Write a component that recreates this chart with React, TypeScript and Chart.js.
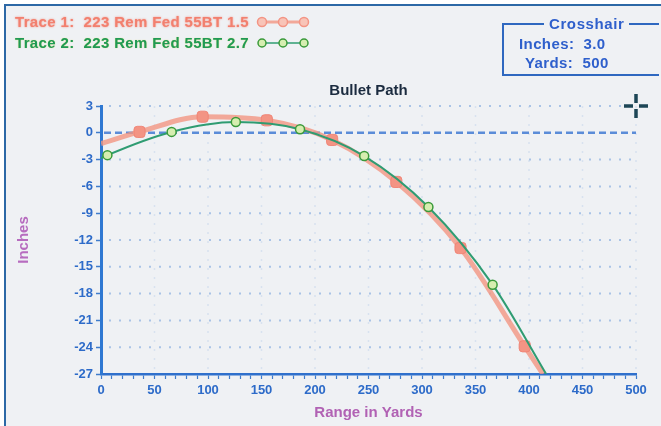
import React, { useEffect, useRef } from 'react';
import { Chart, registerables } from 'chart.js';
Chart.register(...registerables);

// Trace 1 (salmon): path incl. muzzle start and end at chart bottom
const trace1Yards = [0, 36, 95, 155, 216, 276, 336, 396, 413];
const trace1Inches = [-1.2, 0.1, 1.8, 1.4, -0.8, -5.5, -12.9, -23.9, -27];
// Trace 2 (green)
const trace2Yards = [0, 6, 66, 126, 186, 246, 306, 366, 416];
const trace2Inches = [-2.85, -2.5, 0.1, 1.2, 0.4, -2.6, -8.3, -17.0, -27];

const xTicksMajor = [0, 50, 100, 150, 200, 250, 300, 350, 400, 450, 500];
const yTicks = [3, 0, -3, -6, -9, -12, -15, -18, -21, -24, -27];

const trace1Label = 'Trace 1:  223 Rem Fed 55BT 1.5';
const trace2Label = 'Trace 2:  223 Rem Fed 55BT 2.7';
const crosshairInches = 3.0;
const crosshairYards = 500;

const FONT = "'Liberation Sans', Arial, sans-serif";
const BLUE = '#2d6bc9';
const RED_LINE = 'rgba(243,150,130,0.8)';
const RED_PT = '#f39484';
const GREEN_LINE = '#2f9c72';
const GREEN_PT_BORDER = '#3a9a3a';
const GREEN_PT_FILL = '#d6eeb0';

export default function App() {
  const ref = useRef<HTMLCanvasElement | null>(null);

  useEffect(() => {
    document.body.style.margin = '0';
    document.body.style.background = '#ffffff';
    const canvas = ref.current;
    if (!canvas) return;

    const drawPlugin = {
      id: 'custom',
      beforeDatasetsDraw(chart: any) {
        const { ctx, chartArea, scales } = chart;
        const x = scales.x;
        const y = scales.y;
        ctx.save();
        // faint vertical dotted lines
        ctx.strokeStyle = 'rgba(175,198,228,0.35)';
        ctx.lineWidth = 1.5;
        ctx.setLineDash([2, 7]);
        xTicksMajor.forEach((v) => {
          if (v === 0) return;
          const px = x.getPixelForValue(v);
          ctx.beginPath();
          ctx.moveTo(px, chartArea.top);
          ctx.lineTo(px, chartArea.bottom);
          ctx.stroke();
        });
        // horizontal dotted lines
        ctx.strokeStyle = '#a9c3e6';
        ctx.lineWidth = 2;
        ctx.setLineDash([2, 8]);
        yTicks.forEach((v) => {
          if (v === 0 || v === -27) return;
          const py = y.getPixelForValue(v);
          ctx.beginPath();
          ctx.moveTo(chartArea.left + 8, py);
          ctx.lineTo(chartArea.right, py);
          ctx.stroke();
        });
        // zero line dashed
        ctx.strokeStyle = '#5b8cd8';
        ctx.lineWidth = 2.5;
        ctx.setLineDash([7, 4]);
        const pz = y.getPixelForValue(0);
        ctx.beginPath();
        ctx.moveTo(chartArea.left + 3, pz);
        ctx.lineTo(chartArea.right, pz);
        ctx.stroke();
        ctx.restore();
      },
      afterDraw(chart: any) {
        const { ctx, chartArea, scales } = chart;
        ctx.save();
        // title
        ctx.fillStyle = '#1b2b3f';
        ctx.font = `bold 15px ${FONT}`;
        ctx.textAlign = 'center';
        ctx.textBaseline = 'middle';
        ctx.fillText('Bullet Path', (chartArea.left + chartArea.right) / 2, 91);
        // crosshair symbol
        const cx = scales.x.getPixelForValue(crosshairYards);
        const cy = scales.y.getPixelForValue(crosshairInches);
        ctx.strokeStyle = '#1d4656';
        ctx.lineWidth = 3.5;
        ctx.lineCap = 'butt';
        const arm = 12;
        const gap = 3;
        ctx.beginPath();
        ctx.moveTo(cx - arm, cy); ctx.lineTo(cx - gap, cy);
        ctx.moveTo(cx + gap, cy); ctx.lineTo(cx + arm, cy);
        ctx.moveTo(cx, cy - arm); ctx.lineTo(cx, cy - gap);
        ctx.moveTo(cx, cy + gap); ctx.lineTo(cx, cy + arm);
        ctx.stroke();
        // legend samples
        const sample = (yy: number, line: string, lw: number, fill: string, stroke: string, r: number) => {
          ctx.strokeStyle = line;
          ctx.lineWidth = lw;
          ctx.beginPath();
          ctx.moveTo(262, yy);
          ctx.lineTo(304, yy);
          ctx.stroke();
          [262, 283, 304].forEach((mx) => {
            ctx.beginPath();
            ctx.arc(mx, yy, r, 0, Math.PI * 2);
            ctx.fillStyle = fill;
            ctx.fill();
            ctx.lineWidth = 1.5;
            ctx.strokeStyle = stroke;
            ctx.stroke();
          });
        };
        sample(22, RED_LINE, 3, '#f8c4b8', RED_PT, 4.5);
        sample(43, GREEN_LINE, 1.5, GREEN_PT_FILL, GREEN_PT_BORDER, 4);
        ctx.restore();
      },
    };

    const chart = new Chart(canvas, {
      type: 'scatter',
      data: {
        datasets: [
          {
            label: 'Trace 2',
            data: trace2Yards.map((v, i) => ({ x: v, y: trace2Inches[i] })),
            showLine: true,
            borderColor: GREEN_LINE,
            borderWidth: 2,
            backgroundColor: GREEN_PT_FILL,
            pointBorderColor: GREEN_PT_BORDER,
            pointBorderWidth: 1.5,
            pointRadius: (c: any) => (c.dataIndex === 0 || c.dataIndex === trace2Yards.length - 1 ? 0 : 4.5),
            cubicInterpolationMode: 'monotone',
          } as any,
          {
            label: 'Trace 1',
            data: trace1Yards.map((v, i) => ({ x: v, y: trace1Inches[i] })),
            showLine: true,
            borderColor: RED_LINE,
            borderWidth: 5,
            backgroundColor: RED_PT,
            pointBorderColor: 'rgba(240,130,115,0.9)',
            pointBorderWidth: 1,
            pointStyle: 'rectRounded',
            pointRadius: (c: any) => (c.dataIndex === 0 || c.dataIndex === trace1Yards.length - 1 ? 0 : 6.5),
            cubicInterpolationMode: 'monotone',
          } as any,
        ],
      },
      options: {
        animation: false,
        responsive: false,
        devicePixelRatio: 1,
        layout: { padding: { left: 14, top: 106, right: 25, bottom: 0 } },
        plugins: { legend: { display: false }, tooltip: { enabled: false }, title: { display: false } },
        scales: {
          x: {
            type: 'linear',
            min: 0,
            max: 500,
            afterFit: (s: any) => { s.height = 52; },
            afterBuildTicks: (s: any) => {
              const t = [];
              for (let v = 0; v <= 500; v += 10) t.push({ value: v });
              s.ticks = t;
            },
            ticks: {
              autoSkip: false,
              maxRotation: 0,
              padding: 4,
              color: BLUE,
              font: { family: FONT, size: 13, weight: 'bold' },
              callback: (v: any) => (xTicksMajor.includes(Number(v)) ? String(v) : ''),
            },
            grid: { drawOnChartArea: false, drawTicks: true, tickLength: 5, tickColor: '#3f7ccc', tickWidth: 1.2 },
            border: { color: '#2f70cc', width: 2.5 },
            title: { display: true, text: 'Range in Yards', color: '#b162b4', font: { family: FONT, size: 15, weight: 'bold' }, padding: { top: 0, bottom: 4 } },
          },
          y: {
            type: 'linear',
            min: -27,
            max: 3,
            afterFit: (s: any) => { s.width = 87; },
            afterBuildTicks: (s: any) => { s.ticks = yTicks.map((v) => ({ value: v })); },
            ticks: {
              autoSkip: false,
              padding: 3,
              color: BLUE,
              font: { family: FONT, size: 13, weight: 'bold' },
              callback: (v: any) => String(v),
            },
            grid: { drawOnChartArea: false, drawTicks: true, tickLength: 5, tickColor: '#3f7ccc', tickWidth: 1.5 },
            border: { color: '#2f78d2', width: 3 },
            title: { display: true, text: 'Inches', color: '#b76cbf', font: { family: FONT, size: 15, weight: 'bold' }, padding: { top: 1, bottom: 0 } },
          },
        },
      } as any,
      plugins: [drawPlugin],
    });
    return () => chart.destroy();
  }, []);

  const txt: React.CSSProperties = { position: 'absolute', fontFamily: FONT, fontWeight: 'bold', fontSize: 15, whiteSpace: 'pre', lineHeight: '18px' };

  return (
    <div style={{ position: 'relative', width: 661, height: 426, overflow: 'hidden', background: '#ffffff' }}>
      <div style={{ position: 'absolute', left: 4, top: 4, right: 0, bottom: 0, background: '#eff1f4', borderLeft: '2px solid #2c68a6', borderTop: '2px solid #2c68a6' }} />
      <canvas ref={ref} width={661} height={426} style={{ position: 'absolute', left: 0, top: 0, width: 661, height: 426 }} />
      <div style={{ ...txt, left: 15, top: 13, letterSpacing: '0.35px', color: '#f2806f', textShadow: '0 0 2px rgba(242,128,111,0.8)' }}>{trace1Label}</div>
      <div style={{ ...txt, left: 15, top: 34, letterSpacing: '0.35px', color: '#1f9a56', textShadow: '0 0 1px rgba(220,220,90,0.9)' }}>{trace2Label}</div>
      <div style={{ position: 'absolute', left: 502, top: 23, width: 155, height: 49, border: '2px solid #2f68c0', borderRight: 'none' }}>
        <div style={{ ...txt, left: 40, top: -10, padding: '0 5px', letterSpacing: '0.6px', background: '#eff1f4', color: '#2e5fcc' }}>Crosshair</div>
        <div style={{ ...txt, left: 15, top: 10, letterSpacing: '0.4px', color: '#2e5fcc' }}>{`Inches:  ${crosshairInches.toFixed(1)}`}</div>
        <div style={{ ...txt, left: 21, top: 29, letterSpacing: '0.4px', color: '#2e5fcc' }}>{`Yards:  ${crosshairYards}`}</div>
      </div>
    </div>
  );
}
